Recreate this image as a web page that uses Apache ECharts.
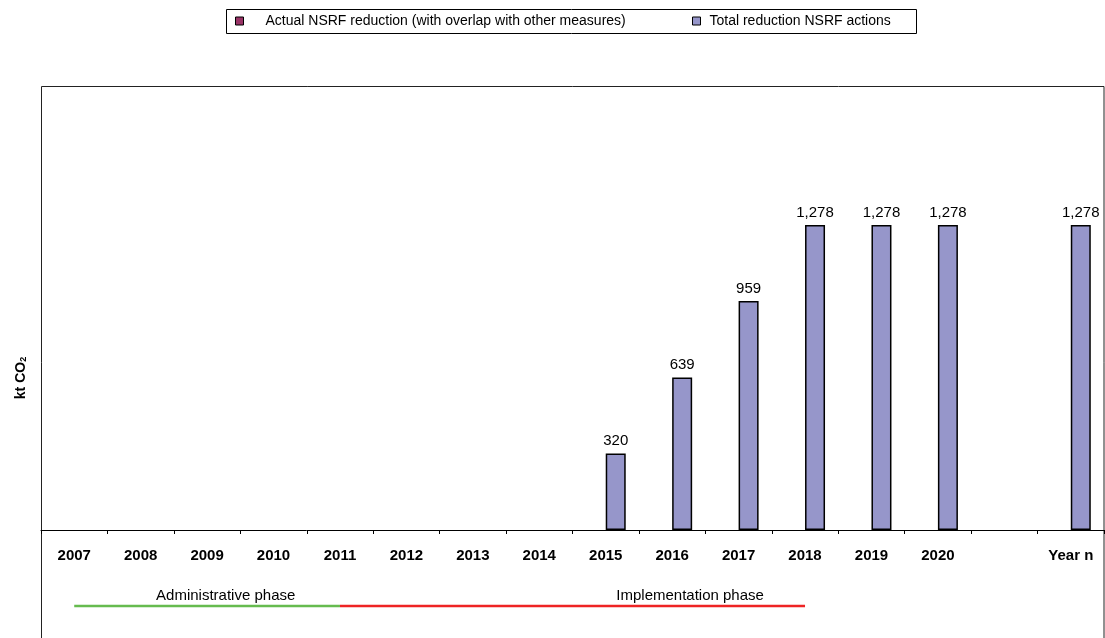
<!DOCTYPE html>
<html>
<head>
<meta charset="utf-8">
<script src="https://cdn.jsdelivr.net/npm/echarts@6/dist/echarts.min.js"></script>
<style>
html,body{margin:0;padding:0;background:#fff;}
#chart{width:1105px;height:638px;}
</style>
</head>
<body>
<div id="chart"></div>
<script>
var categories = ['2007','2008','2009','2010','2011','2012','2013','2014','2015','2016','2017','2018','2019','2020','','Year n'];
var actualReduction = [null,null,null,null,null,null,null,null,null,null,null,null,null,null,null,null];
var totalReduction = [null,null,null,null,null,null,null,null,320,639,959,1278,1278,1278,null,1278];
var seriesNames = ['Actual NSRF reduction (with overlap with other measures)','Total reduction NSRF actions'];
var yTitle = 'kt CO{sub|2}';
var phases = [
  {name:'Administrative phase', from:0, to:4, textAt:2.28, color:'#66BB4F'},
  {name:'Implementation phase', from:4, to:11, textAt:9.27, color:'#EE2424'}
];

var font = 'Liberation Sans, Arial, sans-serif';
var chart = echarts.init(document.getElementById('chart'));
var gridLeft = 41, gridRight = 1, gridTop = 86, gridBottom = 108;

chart.setOption({
  animation:false,
  textStyle:{fontFamily:font},
  legend:[
    {data:[seriesNames[0]], left:235, top:14, padding:0, icon:'rect', itemWidth:8, itemHeight:8,
     itemStyle:{borderColor:'#000', borderWidth:1},
     textStyle:{fontSize:14, color:'#000', fontFamily:font, padding:[0,0,0,17]}},
    {data:[seriesNames[1]], left:692, top:14, padding:0, icon:'rect', itemWidth:8, itemHeight:8,
     itemStyle:{borderColor:'#000', borderWidth:1},
     textStyle:{fontSize:14, color:'#000', fontFamily:font, padding:[0,0,0,4]}}
  ],
  grid:{left:gridLeft, right:gridRight, top:gridTop, bottom:gridBottom, containLabel:false},
  xAxis:{
    type:'category', data:categories, boundaryGap:true,
    axisLine:{show:true, lineStyle:{color:'#000', width:1}},
    axisTick:{show:true, inside:false, length:4, lineStyle:{color:'#000'}},
    axisLabel:{fontSize:15, fontWeight:'bold', color:'#000', margin:18, interval:0, fontFamily:font}
  },
  yAxis:{
    type:'value', min:0, max:1860,
    axisLine:{show:false}, axisTick:{show:false}, axisLabel:{show:false}, splitLine:{show:false}
  },
  series:[
    {name:seriesNames[0], type:'bar', data:actualReduction, barWidth:20, barGap:'0%',
     itemStyle:{color:'#993366', borderColor:'#000', borderWidth:1.5}},
    {name:seriesNames[1], type:'bar', data:totalReduction, barWidth:20, barGap:'0%',
     itemStyle:{color:'#9696CA', borderColor:'#000', borderWidth:1.5},
     label:{show:true, position:'top', distance:5, fontSize:15, color:'#000', fontFamily:font,
       formatter:function(p){return p.value==null?'':Number(p.value).toLocaleString('en-US');}}}
  ]
});

function px(idx){
  var a = chart.convertToPixel({xAxisIndex:0}, categories[0]);
  var b = chart.convertToPixel({xAxisIndex:0}, categories[1]);
  return a + idx*(b-a);
}
var graphics = [
  {type:'rect', shape:{x:226.5, y:9.5, width:690, height:24}, style:{fill:'none', stroke:'#000', lineWidth:1}, silent:true},
  {type:'rect', shape:{x:41.5, y:86.5, width:1062.5, height:620}, style:{fill:'none', stroke:'#222', lineWidth:1}, silent:true},
  {type:'text', x:21, y:378, rotation:Math.PI/2,
   style:{text:yTitle, fontSize:14, fontWeight:'bold', fill:'#000', fontFamily:font, align:'center', verticalAlign:'middle',
     rich:{sub:{fontSize:9, fontWeight:'bold', fill:'#000', padding:[6,0,0,0], fontFamily:font}}}, silent:true}
];
phases.forEach(function(p){
  graphics.push({type:'line', shape:{x1:px(p.from), y1:606, x2:px(p.to), y2:606}, style:{stroke:p.color, lineWidth:2.5}, silent:true});
  graphics.push({type:'text', x:px(p.textAt), y:596, style:{text:p.name, fontSize:15, fill:'#000', fontFamily:font, align:'center', verticalAlign:'middle'}, silent:true});
});
chart.setOption({graphic:graphics});
</script>
</body>
</html>
